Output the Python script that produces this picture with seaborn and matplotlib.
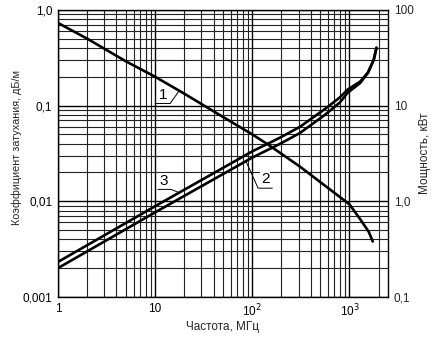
import numpy as np
import pandas as pd
import matplotlib
matplotlib.use("Agg")
import matplotlib.pyplot as plt
import seaborn as sns
from matplotlib.ticker import LogLocator, FixedLocator, FixedFormatter, NullFormatter

# ---- data ----
f1 = [1, 2, 5, 10, 20, 50, 100, 146, 310, 1000, 1290, 1580, 1740]
c1 = [0.73, 0.50, 0.29, 0.20, 0.133, 0.076, 0.050, 0.039, 0.023, 0.0093, 0.0065, 0.0048, 0.0038]

f23 = [1, 10, 100, 195, 310, 560, 800, 960, 1290, 1550, 1780, 1900]
c3 = [0.00232, 0.00887, 0.0332, 0.0464, 0.060, 0.092, 0.122, 0.147, 0.178, 0.221, 0.301, 0.402]
c2 = [0.0020, 0.00765, 0.0286, 0.0400, 0.0517, 0.080, 0.108, 0.136, 0.172, 0.219, 0.300, 0.402]

xticks = [1, 10, 100, 1000]
xticklabels = ["1", "10", "10$^2$", "10$^3$"]
yticks = [0.001, 0.01, 0.1, 1.0]
yticklabels = ["0,001", "0,01", "0,1", "1,0"]
y2labels = ["0,1", "1,0", "10", "100"]

# curve labels: text position, underline start/end, leader end (on curve)
labels = ["1", "3", "2"]
lab_x = [12.1, 12.4, 136]
lab_y = [0.110, 0.0139, 0.0143]
ul_x0 = [10.0, 10.7, 161]
ul_x1 = [14.3, 14.6, 115]
ul_y = [0.105, 0.0133, 0.0137]
end_x = [17.7, 17.7, 86.7]
end_y = [0.143, 0.0123, 0.0258]

df = pd.concat([
    pd.DataFrame({"f": f1, "v": c1, "curve": "1"}),
    pd.DataFrame({"f": f23, "v": c3, "curve": "3"}),
    pd.DataFrame({"f": f23, "v": c2, "curve": "2"}),
])

sns.set_style("white")
plt.rcParams["font.family"] = ["Liberation Sans", "DejaVu Sans"]

fig = plt.figure(figsize=(4.42, 3.39), dpi=100)
ax = fig.add_axes([0.131, 0.124, 0.747, 0.847])

sns.lineplot(data=df, x="f", y="v", hue="curve", units="curve", estimator=None,
             palette={"1": "black", "2": "black", "3": "black"}, sort=False,
             linewidth=1.9, legend=False, ax=ax)

ax.set_xscale("log")
ax.set_yscale("log")
ax.set_xlim(1, 2500)
ax.set_ylim(0.001, 1.0)

ax.xaxis.set_major_locator(FixedLocator(xticks))
ax.xaxis.set_major_formatter(FixedFormatter(xticklabels))
ax.xaxis.set_minor_locator(LogLocator(base=10, subs=np.arange(2, 10)))
ax.xaxis.set_minor_formatter(NullFormatter())
ax.yaxis.set_major_locator(FixedLocator(yticks))
ax.yaxis.set_major_formatter(FixedFormatter(yticklabels))
ax.yaxis.set_minor_locator(LogLocator(base=10, subs=np.arange(2, 10)))
ax.yaxis.set_minor_formatter(NullFormatter())

ax.grid(True, which="major", color="black", linewidth=1.0)
ax.grid(True, which="minor", color="#222222", linewidth=0.8)
ax.tick_params(which="both", length=0, labelsize=8.5, pad=4, colors="black")
for s in ax.spines.values():
    s.set_color("black")
    s.set_linewidth(1.0)

ax.set_xlabel("Частота, МГц", fontsize=8.5, labelpad=1)
ax.set_ylabel("Коэффициент затухания, дБ/м", fontsize=7.8)
ax.yaxis.set_label_coords(-0.109, 0.52)

ax2 = ax.twinx()
ax2.set_yscale("log")
ax2.set_ylim(0.1, 100)
ax2.yaxis.set_major_locator(FixedLocator([0.1, 1, 10, 100]))
ax2.yaxis.set_major_formatter(FixedFormatter(y2labels))
ax2.yaxis.set_minor_formatter(NullFormatter())
ax2.tick_params(which="both", length=0, labelsize=8.5, pad=4)
ax2.set_ylabel("Мощность, кВт", fontsize=8.5, labelpad=4)
for s in ax2.spines.values():
    s.set_visible(False)

for t, tx, ty, x0, x1, uy, ex, ey in zip(labels, lab_x, lab_y, ul_x0, ul_x1,
                                          ul_y, end_x, end_y):
    ax.text(tx, ty, t, fontsize=11, ha="center", va="bottom", color="black",
            bbox=dict(facecolor="white", edgecolor="none", pad=0.5))
    ax.plot([x0, x1, ex], [uy, uy, ey], color="black", lw=0.7)

fig.savefig("out.png", dpi=100)
